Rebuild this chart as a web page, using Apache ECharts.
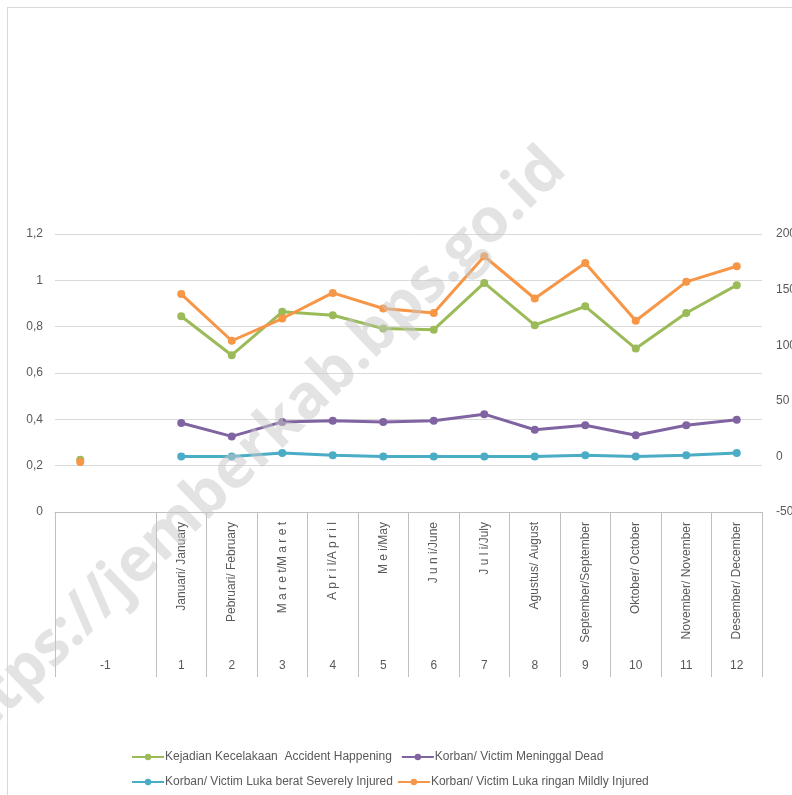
<!DOCTYPE html>
<html>
<head>
<meta charset="utf-8">
<script src="https://cdn.jsdelivr.net/npm/echarts@6/dist/echarts.min.js"></script>
<style>
  html, body { margin: 0; padding: 0; background: #fff; overflow: hidden; width: 792px; height: 795px; }
  #chart { position: absolute; left: 0; top: 0; width: 792px; height: 795px; }
  #frame { position: absolute; left: 7px; top: 7px; width: 785px; height: 788px; box-sizing: border-box;
           border-top: 1px solid #d9d9d9; border-left: 1px solid #d9d9d9; pointer-events: none; }
</style>
</head>
<body>
<div id="chart"></div>
<div id="frame"></div>
<script>
// Category labels (two-level axis in the original)
const monthLabels = ["", "", "Januari/ January", "Pebruari/ February", "M a r e t/M a r e t", "A p r i l/A p r i l",
  "M e i/May", "J u n i/June", "J u l i/July", "Agustus/ August", "September/September",
  "Oktober/ October", "November/ November", "Desember/ December"];
const numberLabels = ["-1", "", "1", "2", "3", "4", "5", "6", "7", "8", "9", "10", "11", "12"];

const seriesNames = [
  "Kejadian Kecelakaan  Accident Happening",
  "Korban/ Victim Meninggal Dead",
  "Korban/ Victim Luka berat Severely Injured",
  "Korban/ Victim Luka ringan Mildly Injured"
];
const accidents = [-3, null, 126, 91, 130, 127, 115, 114, 156, 118, 135, 97, 129, 154];
const dead      = [null, null, 30, 18, 31, 32, 31, 32, 38, 24, 28, 19, 28, 33];
const severe    = [null, null, 0, 0, 3, 1, 0, 0, 0, 0, 1, 0, 1, 3];
const mild      = [-5, null, 146, 104, 124, 147, 133, 129, 180, 142, 174, 122, 157, 171];

const leftTicks = { min: 0, max: 1.2, interval: 0.2 };
const rightTicks = { min: -50, max: 200, interval: 50 };

const colors = ["#9BBB59", "#8064A2", "#4BACC6", "#F79646"];
const FONT = "Liberation Sans";
const TXT = "#595959";

const chart = echarts.init(document.getElementById('chart'), null, { width: 792, height: 795 });

function mkSeries(name, data, color, z) {
  return {
    name: name, type: 'line', xAxisIndex: 0, yAxisIndex: 1, data: data,
    symbol: 'circle', symbolSize: 8, connectNulls: false, z: z,
    lineStyle: { width: 3, color: color }, itemStyle: { color: color },
    emphasis: { disabled: true }
  };
}

chart.setOption({
  animation: false,
  textStyle: { fontFamily: FONT },
  grid: { left: 55, right: 30, top: 234, bottom: 283, containLabel: false, outerBoundsMode: 'none' },
  legend: [
    { data: [seriesNames[0], seriesNames[1]], left: 126, top: 746, itemWidth: 32, itemHeight: 8, itemGap: 9,
      textStyle: { color: TXT, fontSize: 12, fontFamily: FONT, padding: [0, 0, 0, -4] } },
    { data: [seriesNames[2], seriesNames[3]], left: 126, top: 771, itemWidth: 32, itemHeight: 8, itemGap: 4,
      textStyle: { color: TXT, fontSize: 12, fontFamily: FONT, padding: [0, 0, 0, -4] } }
  ],
  xAxis: [
    { type: 'category', data: monthLabels, position: 'bottom', boundaryGap: true,
      axisLine: { show: true, lineStyle: { color: '#bfbfbf', width: 1 } },
      axisTick: { show: true, length: 165, lineStyle: { color: '#bfbfbf', width: 1 },
                  interval: function (idx) { return idx !== 1; } },
      axisLabel: { rotate: 90, margin: 10, color: TXT, fontSize: 12, fontFamily: FONT, interval: 0 },
      splitLine: { show: false } },
    { type: 'category', data: numberLabels, position: 'bottom', offset: 140, boundaryGap: true,
      axisLine: { show: false }, axisTick: { show: false },
      axisLabel: { margin: 8, color: TXT, fontSize: 12, fontFamily: FONT, interval: 0,
        formatter: function (v, i) { return i === 0 ? '{a|' + v + '}' : v; },
        rich: { a: { padding: [0, 0, 0, 50], color: TXT, fontSize: 12, fontFamily: FONT } } },
      splitLine: { show: false } }
  ],
  yAxis: [
    { type: 'value', position: 'left', min: leftTicks.min, max: leftTicks.max, interval: leftTicks.interval,
      axisLine: { show: false }, axisTick: { show: false },
      axisLabel: { margin: 12, color: TXT, fontSize: 12, fontFamily: FONT,
        formatter: function (v) { return String(Math.round(v * 10) / 10).replace('.', ','); } },
      splitLine: { show: true, lineStyle: { color: '#d9d9d9', width: 1 } } },
    { type: 'value', position: 'right', min: rightTicks.min, max: rightTicks.max, interval: rightTicks.interval,
      axisLine: { show: false }, axisTick: { show: false },
      axisLabel: { margin: 14, color: TXT, fontSize: 12, fontFamily: FONT },
      splitLine: { show: false } }
  ],
  series: [
    mkSeries(seriesNames[0], accidents, colors[0], 3),
    mkSeries(seriesNames[1], dead, colors[1], 3),
    mkSeries(seriesNames[2], severe, colors[2], 3),
    mkSeries(seriesNames[3], mild, colors[3], 4)
  ],
  graphic: [
    { type: 'text', z: 100, silent: true,
      x: 251, y: 454, rotation: Math.PI * 44 / 180,
      style: { text: 'https://jemberkab.bps.go.id', font: 'bold 61px "Open Sans"', fill: 'rgba(200,200,200,0.5)',
               align: 'center', verticalAlign: 'middle' } }
  ]
});
</script>
</body>
</html>
